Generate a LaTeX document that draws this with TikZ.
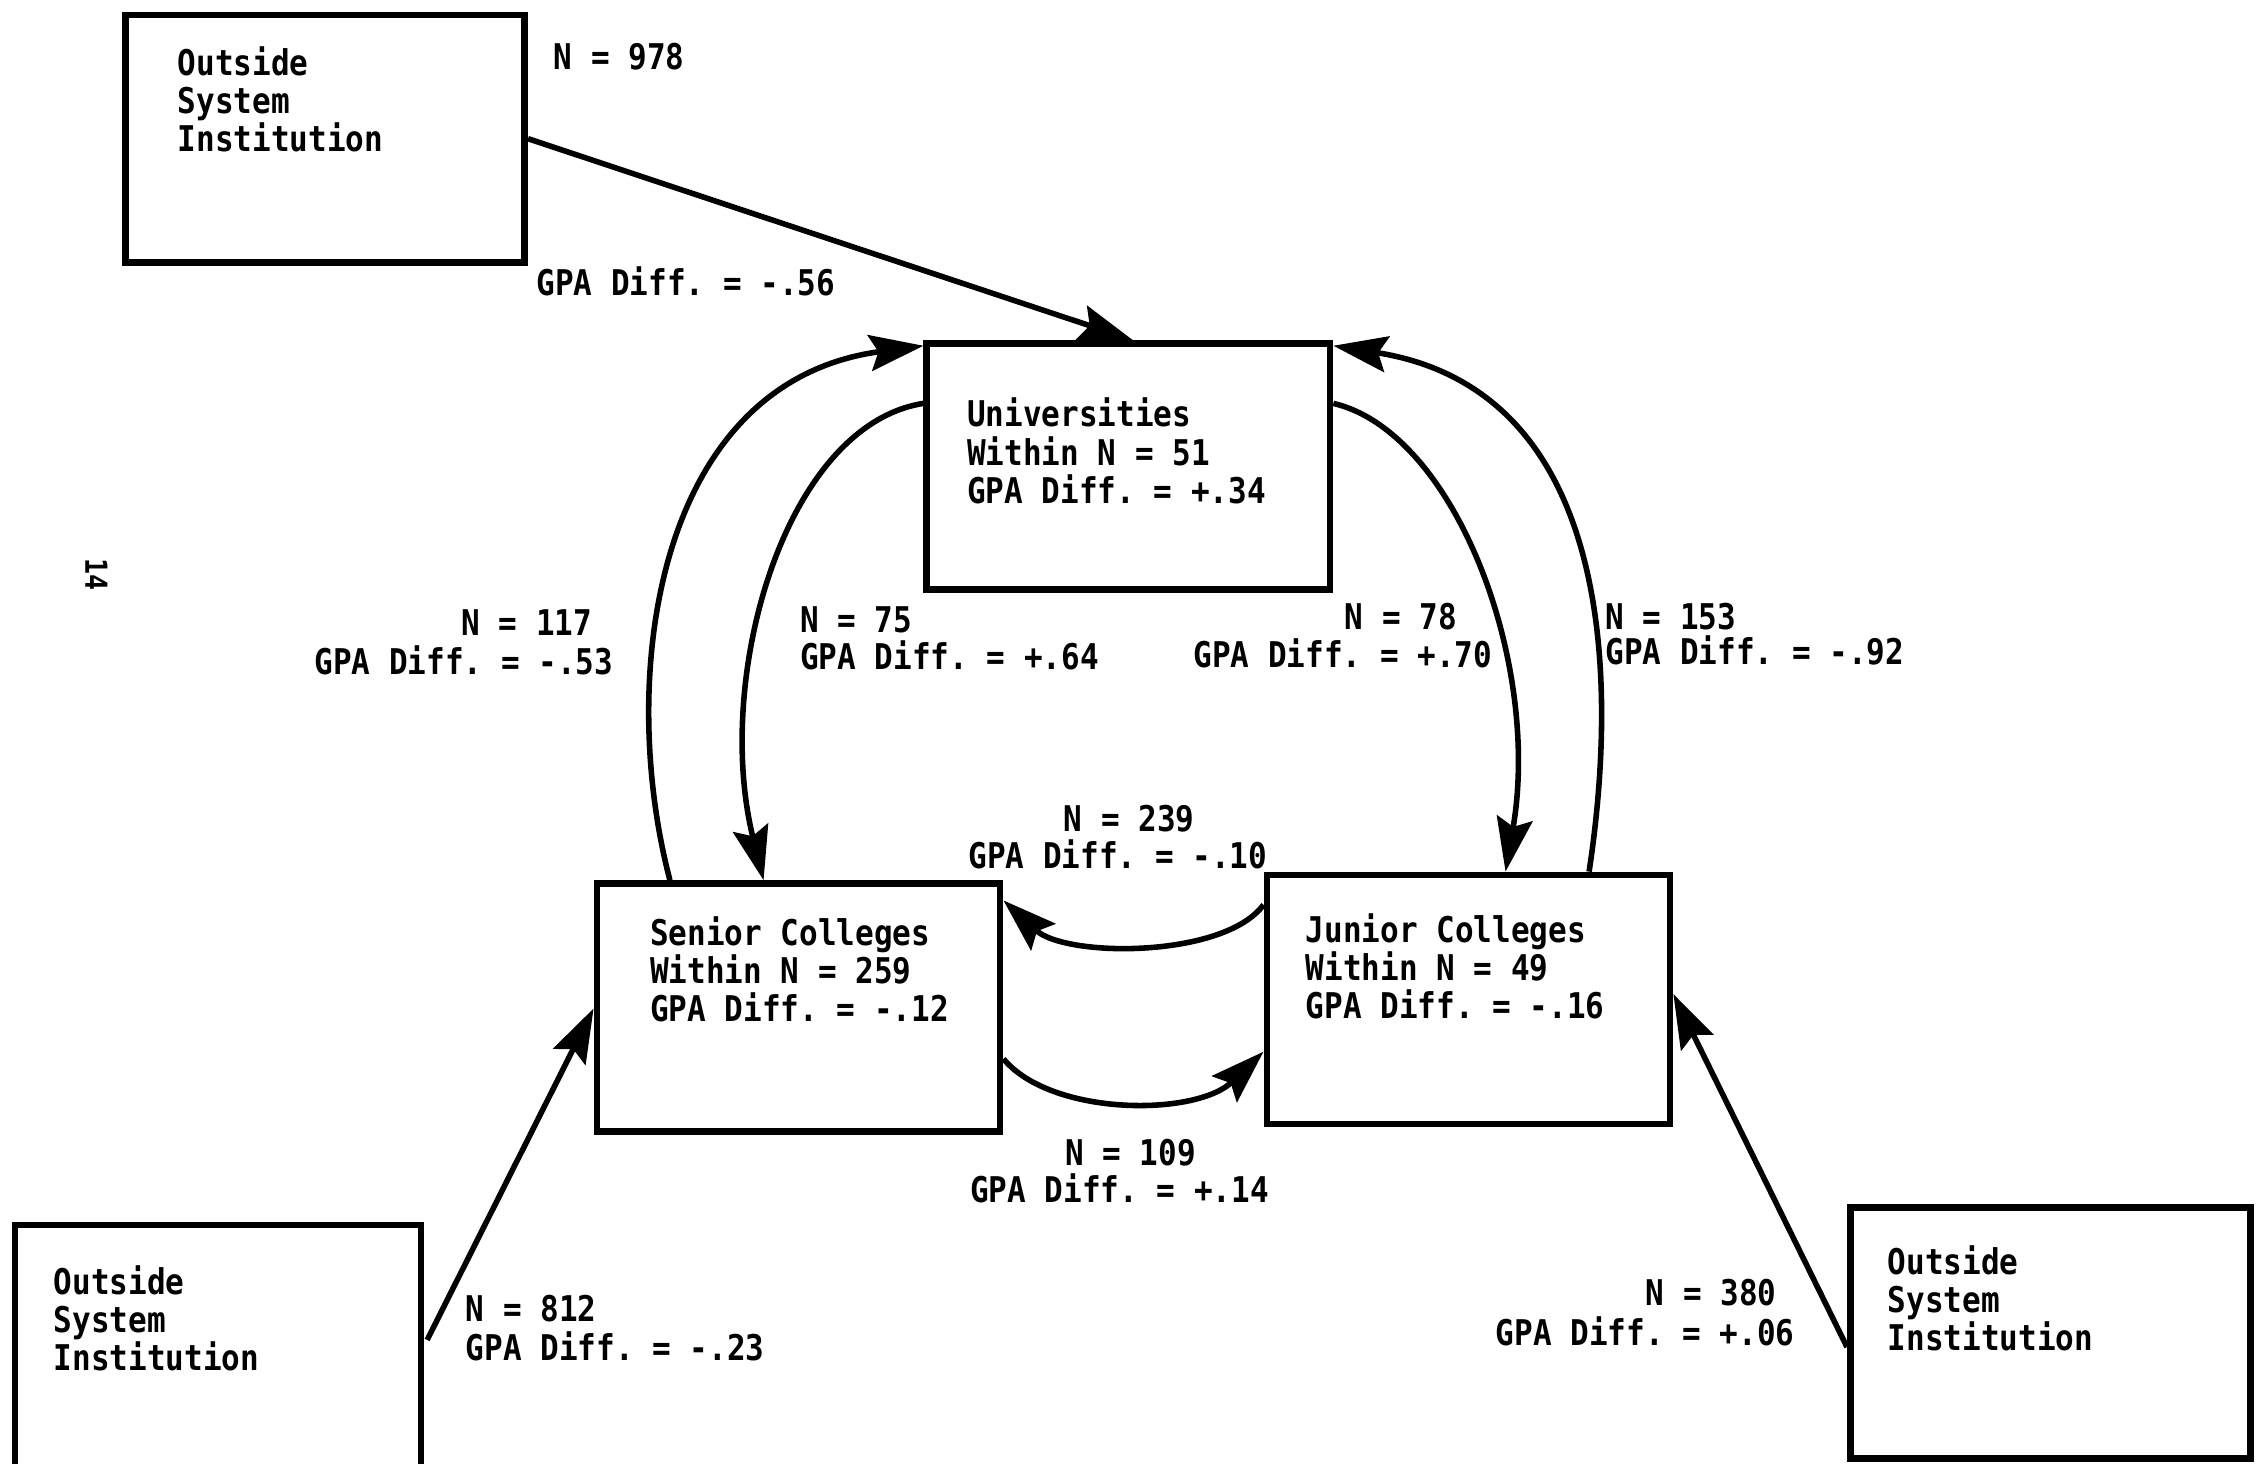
\documentclass[tikz,border=0pt]{standalone}
\usepackage{fontspec}
\setmonofont[FakeStretch=0.875]{DejaVu Sans Mono}
\usetikzlibrary{arrows.meta,calc}
\begin{document}
\begin{tikzpicture}[x=0.02cm,y=-0.02cm,
  box/.style={draw, line width=2.6pt, inner sep=0, anchor=north west},
  txt/.style={font=\ttfamily\bfseries\fontsize{14}{15.05}\selectfont, inner sep=0, align=left, anchor=north west},
  lbl/.style={font=\ttfamily\bfseries\fontsize{14}{15.05}\selectfont, inner sep=0, anchor=base west},
  conn/.style={line width=2.2pt, -{Stealth[length=0.75cm,width=0.5cm,inset=0.12cm]}}]
\useasboundingbox (0,0) rectangle (1568,1016);
\clip (0,0) rectangle (1568,1016);
% boxes
\node[box, minimum width=5.54cm, minimum height=3.44cm] (tl) at (85,8) {};
\node[box, minimum width=5.6cm, minimum height=3.42cm] (uni) at (641,236) {};
\node[box, minimum width=5.6cm, minimum height=3.44cm] (sen) at (412,611) {};
\node[box, minimum width=5.6cm, minimum height=3.46cm] (jun) at (877,605) {};
\node[box, minimum width=5.64cm, minimum height=3.84cm] (bl) at (8,848) {};
\node[box, minimum width=5.56cm, minimum height=3.48cm] (br) at (1282,836) {};
% box texts
\node[txt] (tltxt) at (123,32) {Outside\\System\\Institution};
\node[txt] (unitxt) at (671,276) {Universities\\Within N = 51\\GPA Diff. = +.34};
\node[txt] (sentxt) at (451,636) {Senior Colleges\\Within N = 259\\GPA Diff. = -.12};
\node[txt] (juntxt) at (906,634) {Junior Colleges\\Within N = 49\\GPA Diff. = -.16};
\node[txt] (bltxt) at (37,878) {Outside\\System\\Institution};
\node[txt] (brtxt) at (1310,864) {Outside\\System\\Institution};
% connectors
\draw[conn] (tl.east) -- ($(uni.north)+(3,0)$);
\draw[conn] ($(sen.north west)+(53,0)$) .. controls (428,470) and (455,265) .. ($(uni.north west)+(0,4)$);
\draw[conn] ($(uni.north west)+(0,44)$) .. controls (545,295) and (495,470) .. ($(sen.north west)+(118,0)$);
\draw[conn] ($(uni.north east)+(0,44)$) .. controls (1010,300) and (1070,460) .. ($(jun.north west)+(168,0)$);
\draw[conn] ($(jun.north west)+(226,0)$) .. controls (1125,460) and (1115,270) .. ($(uni.north east)+(0,4)$);
\draw[conn] ($(jun.north west)+(0,23)$) .. controls (850,665) and (740,665) .. ($(sen.north east)+(0,14)$);
\draw[conn] ($(sen.north east)+(0,124)$) .. controls (730,775) and (830,775) .. ($(jun.north west)+(0,125)$);
\draw[conn] ($(bl.north east)+(2,82)$) -- ($(sen.north west)+(0,89)$);
\draw[conn] ($(br.north west)+(0,99)$) -- ($(jun.north east)+(0,85)$);
% labels
\node[lbl] (l1a) at (384,48) {N = 978};
\node[lbl] (l1b) at (372,205) {GPA Diff. = -.56};
\node[lbl] (l2a) at (320,441) {N = 117};
\node[lbl] (l2b) at (218,468) {GPA Diff. = -.53};
\node[lbl] (l3a) at (555,439) {N = 75};
\node[lbl] (l3b) at (555,465) {GPA Diff. = +.64};
\node[lbl] (l4a) at (933,437) {N = 78};
\node[lbl] (l4b) at (828,463) {GPA Diff. = +.70};
\node[lbl] (l5a) at (1114,437) {N = 153};
\node[lbl] (l5b) at (1114,461) {GPA Diff. = -.92};
\node[lbl] (l6a) at (738,577) {N = 239};
\node[lbl] (l6b) at (672,603) {GPA Diff. = -.10};
\node[lbl] (l7a) at (739,809) {N = 109};
\node[lbl] (l7b) at (673,835) {GPA Diff. = +.14};
\node[lbl] (l8a) at (323,917) {N = 812};
\node[lbl] (l8b) at (323,944) {GPA Diff. = -.23};
\node[lbl] (l9a) at (1142,906) {N = 380};
\node[lbl] (l9b) at (1038,934) {GPA Diff. = +.06};
\node[font=\ttfamily\bfseries\fontsize{12}{14}\selectfont, inner sep=0, rotate=-90] (pg) at (67,399) {14};
\end{tikzpicture}
\end{document}
